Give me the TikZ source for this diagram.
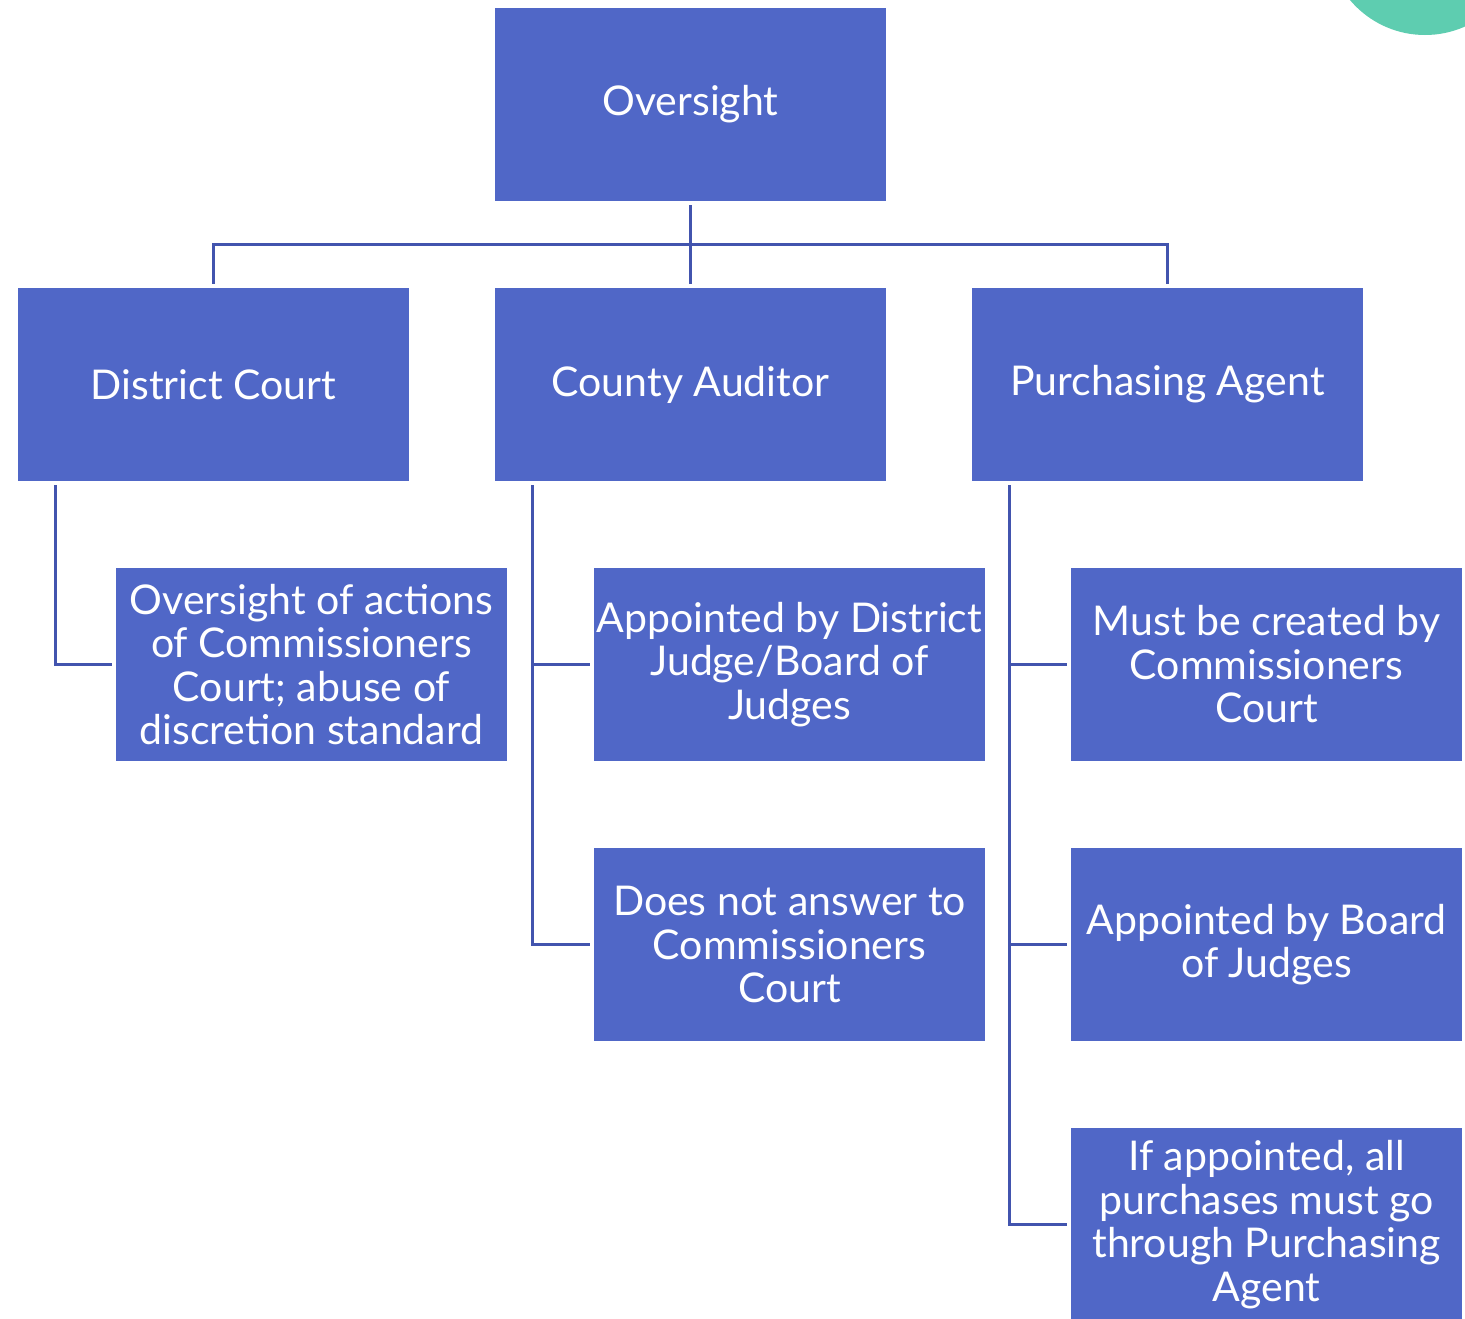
\documentclass[tikz,border=0pt]{standalone}
\usepackage{fontspec}
\setmainfont{Lato}
\usetikzlibrary{%
  calc
}
\definecolor{boxblue}{HTML}{5067C7}
\definecolor{lineblue}{HTML}{4254AE}
\definecolor{mint}{HTML}{5ECDB0}
\tikzset{
  box/.style={fill=boxblue, text=white, minimum width=195.5pt,
    minimum height=96.5pt, inner sep=0pt, outer sep=2pt, align=center,
    font=\fontsize{20.5}{21.75}\selectfont},
  link/.style={draw=lineblue, line width=1.5pt}
}

\begin{document}
\begin{tikzpicture}[x=0.5pt,y=-0.5pt]

  \useasboundingbox (0,0) rectangle (1465,1318);

  \fill[mint] (1425,-63) circle (49pt);

  \node[box] (oversight)  at (690.5,104.5)  {Oversight};
  \node[box] (district)   at (213.5,384.5)  {District Court};
  \node[box] (auditor)    at (690.5,384.5)  {County Auditor};
  \node[box] (purchasing) at (1167.5,384.5) {Purchasing Agent};

  \node[box] (dcone) at (311.5,664.5)
    {Oversight of actions\\of Commissioners\\Court; abuse of\\discretion standard};
  \node[box] (caone) at (789.5,664.5)
    {Appointed by District\\Judge/Board of\\Judges};
  \node[box] (catwo) at (789.5,944.5)
    {Does not answer to\\Commissioners\\Court};
  \node[box] (paone) at (1266.5,664.5)
    {Must be created by\\Commissioners\\Court};
  \node[box] (patwo) at (1266.5,944.5)
    {Appointed by Board\\of Judges};
  \node[box] (pathree) at (1266.5,1224.5)
    {If appointed, all\\purchases must go\\through Purchasing\\Agent};

  \coordinate (bus) at (690.5,244);
  \draw[link] (oversight.south) -- (bus);
  \draw[link] (bus) -| (district.north);
  \draw[link] (bus) -- (auditor.north);
  \draw[link] (bus) -| (purchasing.north);

  \coordinate (dcspine) at ($(district.south west)+(41,0)$);
  \draw[link] (dcspine) |- (dcone.west);

  \coordinate (caspine) at ($(auditor.south west)+(41,0)$);
  \draw[link] (caspine) |- (catwo.west);
  \draw[link] (caspine |- caone.west) -- (caone.west);

  \coordinate (paspine) at ($(purchasing.south west)+(41,0)$);
  \draw[link] (paspine) |- (pathree.west);
  \draw[link] (paspine |- paone.west) -- (paone.west);
  \draw[link] (paspine |- patwo.west) -- (patwo.west);

\end{tikzpicture}
\end{document}
